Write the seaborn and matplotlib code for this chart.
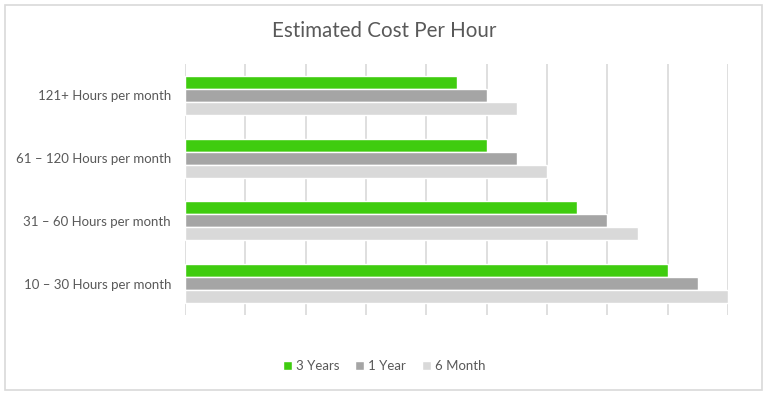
import pandas as pd
import matplotlib.pyplot as plt
import seaborn as sns
from matplotlib.patches import Rectangle

# categories (top to bottom) and series values, in gridline units
categories = ["121+ Hours per month", "61 \u2013 120 Hours per month",
              "31 \u2013 60 Hours per month", "10 \u2013 30 Hours per month"]
series = ["3 Years", "1 Year", "6 Month"]
three_years = [4.5, 5.0, 6.5, 8.0]
one_year = [5.0, 5.5, 7.0, 8.5]
six_month = [5.5, 6.0, 7.5, 9.0]
colors = ["#3fcc0f", "#a5a5a5", "#d9d9d9"]

df = pd.DataFrame({
    "category": categories * 3,
    "plan": [s for s in series for _ in categories],
    "cost": three_years + one_year + six_month,
})

sns.set_style("white")
plt.rcParams["font.family"] = ["Lato", "DejaVu Sans"]

fig = plt.figure(figsize=(7.68, 3.95), dpi=100)
fig.patches.append(Rectangle((5 / 768, 1 - 390 / 395), 757 / 768, 385 / 395,
                             transform=fig.transFigure, fill=False,
                             edgecolor="#d9d9d9", linewidth=1.2))
ax = fig.add_axes([185 / 768, 1 - 315 / 395, 543 / 768, 251 / 395])

sns.barplot(data=df, x="cost", y="category", hue="plan", orient="h",
            palette=colors, saturation=1, width=0.62, ax=ax, legend=True)

ax.set_xlim(0, 9)
ax.set_xticks(range(10))
ax.set_xticklabels([])
ax.xaxis.grid(True, color="#d9d9d9", linewidth=1.2)
ax.set_axisbelow(True)
ax.tick_params(axis="both", length=0)
ax.tick_params(axis="y", labelsize=9.5, labelcolor="#595959", pad=10)
ax.set_xlabel("")
ax.set_ylabel("")
sns.despine(ax=ax, left=True, bottom=True)

fig.text(0.5, 1 - 31 / 395, "Estimated Cost Per Hour", ha="center", va="center",
         fontsize=14.8, color="#595959")

handles, labels = ax.get_legend_handles_labels()
ax.get_legend().remove()
fig.legend(handles, labels, loc="center", bbox_to_anchor=(0.5, 1 - 366 / 395),
           ncol=3, frameon=False, fontsize=9.5, labelcolor="#595959",
           handlelength=0.7, handleheight=0.7, handletextpad=0.3, columnspacing=1.2)

fig.savefig("out.png", dpi=100)
